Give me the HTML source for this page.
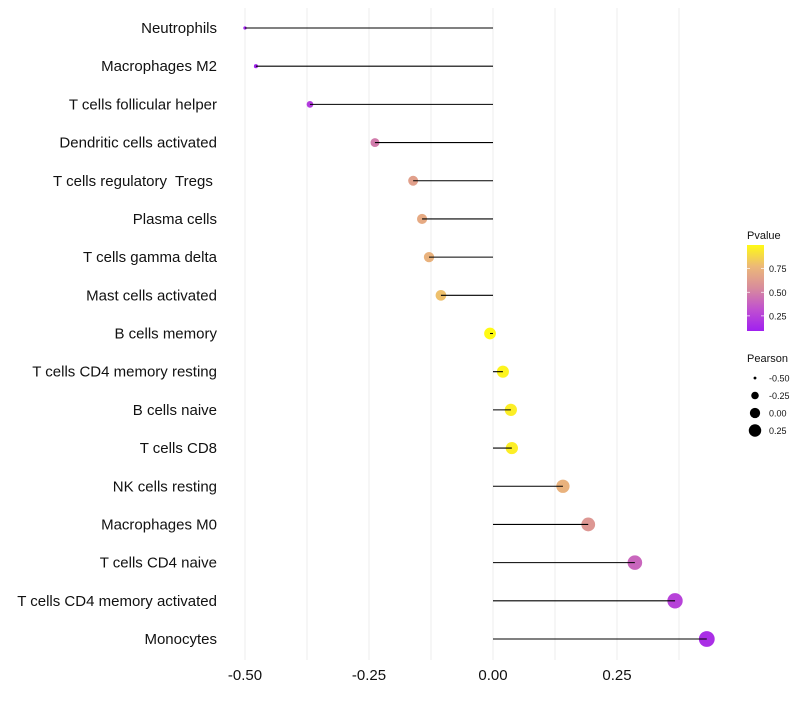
<!DOCTYPE html>
<html><head><meta charset="utf-8"><style>
body{margin:0;background:#fff;width:800px;height:700px;overflow:hidden;font-family:"Liberation Sans",sans-serif}
text{white-space:pre}
</style></head><body>
<svg id="chart" width="800" height="700" xmlns="http://www.w3.org/2000/svg" font-family="Liberation Sans, sans-serif"></svg>
<script>
const categories=["Neutrophils","Macrophages M2","T cells follicular helper","Dendritic cells activated","T cells regulatory  Tregs ","Plasma cells","T cells gamma delta","Mast cells activated","B cells memory","T cells CD4 memory resting","B cells naive","T cells CD8","NK cells resting","Macrophages M0","T cells CD4 naive","T cells CD4 memory activated","Monocytes"];
const pearson=[-0.50,-0.478,-0.369,-0.238,-0.161,-0.143,-0.129,-0.105,-0.006,0.020,0.036,0.038,0.141,0.192,0.286,0.367,0.431];
const pvalues=[0.09,0.10,0.22,0.48,0.65,0.70,0.74,0.80,1.0,0.98,0.96,0.96,0.74,0.60,0.40,0.25,0.16];
const xTicks=[-0.5,-0.25,0,0.25];
const xTickLabels=["-0.50","-0.25","0.00","0.25"];
const pTicks=[0.25,0.5,0.75];
const pTickLabels=["0.25","0.50","0.75"];
const sizeLegendVals=[-0.5,-0.25,0,0.25];
const sizeLegendLabels=["-0.50","-0.25","0.00","0.25"];

const NS="http://www.w3.org/2000/svg";
const svg=document.getElementById('chart');
function mk(tag,attrs,parent){const e=document.createElementNS(NS,tag);for(const k in attrs)e.setAttribute(k,attrs[k]);(parent||svg).appendChild(e);return e;}
const xScale=v=>493+v*496;
const yScale=i=>28+i*(611/16);
const rScale=p=>1.1*Math.sqrt(Math.max(1,28.9+53.3*p));
const pMin=0.09,pMax=1.0;
const stops=[[0,[160,32,240]],[0.25,[192,80,208]],[0.5,[216,140,156]],[0.75,[236,184,120]],[1,[255,250,20]]];
function colorOf(p){let t=(p-pMin)/(pMax-pMin);t=Math.max(0,Math.min(1,t));
 for(let i=1;i<stops.length;i++){if(t<=stops[i][0]){const a=stops[i-1],b=stops[i];const u=(t-a[0])/(b[0]-a[0]);const c=a[1].map((v,k)=>Math.round(v+(b[1][k]-v)*u));return `rgb(${c})`;}}return 'rgb(255,250,20)';}

[-0.5,-0.375,-0.25,-0.125,0,0.125,0.25,0.375].forEach(v=>{
 const g=mk('line',{x1:xScale(v),x2:xScale(v),y1:8,y2:660,stroke:'#ededed','stroke-width':1});
 
 
});
categories.forEach((c,i)=>{
 const t=mk('text',{x:217,y:yScale(i)+5,'text-anchor':'end','font-size':15,fill:'#111'});
 t.textContent=c;
 
 
});
pearson.forEach((p,i)=>{
 const c=mk('circle',{cx:xScale(p),cy:yScale(i),r:rScale(p),fill:colorOf(pvalues[i])});
 
 
});
pearson.forEach((p,i)=>{
 const l=mk('line',{x1:xScale(0),x2:xScale(p),y1:yScale(i),y2:yScale(i),stroke:'#000','stroke-width':1.1});
 
 
});
xTicks.forEach((v,i)=>{
 const t=mk('text',{x:xScale(v),y:680,'text-anchor':'middle','font-size':15,fill:'#111'});
 t.textContent=xTickLabels[i];
 
 
});
const lt=mk('text',{x:747,y:239,'font-size':11,fill:'#111'});lt.textContent='Pvalue';


const defs=mk('defs',{});
const grad=mk('linearGradient',{id:'pg',x1:0,y1:1,x2:0,y2:0},defs);
stops.forEach(s=>mk('stop',{offset:s[0],'stop-color':`rgb(${s[1]})`},grad));
const bar=mk('rect',{x:747,y:245,width:17,height:86,fill:'url(#pg)'});


const pY=p=>331-(p-pMin)/(pMax-pMin)*86;
pTicks.forEach((p,i)=>{
 mk('line',{x1:747,x2:750,y1:pY(p),y2:pY(p),stroke:'#fff','stroke-width':0.7});
 mk('line',{x1:761,x2:764,y1:pY(p),y2:pY(p),stroke:'#fff','stroke-width':0.7});
 const t=mk('text',{x:769,y:pY(p)+3.5,'font-size':9,fill:'#111'});t.textContent=pTickLabels[i];
 
 
});
const st=mk('text',{x:747,y:362,'font-size':11,fill:'#111'});st.textContent='Pearson';


sizeLegendVals.forEach((v,i)=>{
 const y=378+i*17.5;
 const c=mk('circle',{cx:755,cy:y,r:rScale(v)*0.87,fill:'#000'});
 
 
 const t=mk('text',{x:769,y:y+3.5,'font-size':9,fill:'#111'});t.textContent=sizeLegendLabels[i];
 
 
});
</script>
</body></html>
